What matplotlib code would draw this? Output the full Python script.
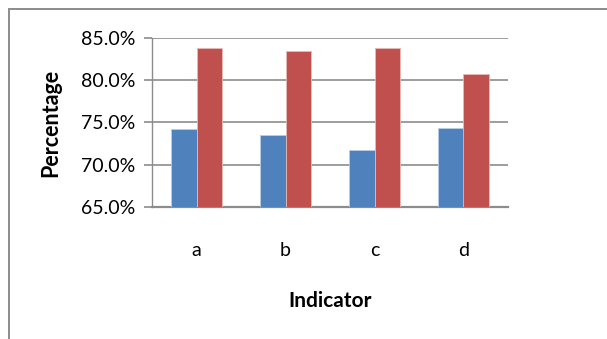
import numpy as np
import matplotlib.pyplot as plt
from matplotlib.ticker import PercentFormatter
from matplotlib.patches import Rectangle

categories = ["a", "b", "c", "d"]
series_blue = [74.2, 73.5, 71.7, 74.3]
series_red = [83.8, 83.5, 83.8, 80.7]
yticks = [65, 70, 75, 80, 85]

plt.rcParams['font.family'] = ['Lato', 'DejaVu Sans']

fig = plt.figure(figsize=(6.07, 3.39), dpi=100)
ax = fig.add_axes([152 / 607, 1 - 207 / 339, 356 / 607, 169 / 339])

x = np.arange(len(categories))
w = 0.287
ax.bar(x - w / 2, np.array(series_blue) - 65, w, bottom=65, color="#4F81BD",
       edgecolor="#B9CDE5", linewidth=0.6, zorder=3)
ax.bar(x + w / 2, np.array(series_red) - 65, w, bottom=65, color="#C0504D",
       edgecolor="#E6B9B8", linewidth=0.6, zorder=3)

ax.set_xlim(-0.5, 3.5)
ax.set_ylim(65, 85)
ax.set_yticks(yticks)
ax.yaxis.set_major_formatter(PercentFormatter(decimals=1))
ax.set_xticks(x)
ax.set_xticklabels(categories)
ax.grid(axis="y", color="#8C8C8C", linewidth=1.2, zorder=0)

for s in ["top", "right"]:
    ax.spines[s].set_visible(False)
ax.spines["left"].set_color("#8C8C8C")
ax.spines["left"].set_linewidth(1.0)
ax.spines["bottom"].set_color("#8C8C8C")
ax.spines["bottom"].set_linewidth(1.6)
ax.tick_params(axis="y", length=6, color="#8C8C8C", width=1.2, labelsize=14, pad=6)
ax.tick_params(axis="x", length=0, labelsize=14, pad=25)

ax.set_ylabel("Percentage", fontsize=15.5, fontweight="bold", labelpad=14)
ax.set_xlabel("Indicator", fontsize=15, fontweight="bold", labelpad=23)

# outer chart frame
fig.patches.append(Rectangle((9 / 607, -0.1), 1.1, 1 - 9 / 339 + 0.1,
                             transform=fig.transFigure, fill=False,
                             edgecolor="#8C8C8C", linewidth=1.4))

fig.savefig("out.png", dpi=100)
